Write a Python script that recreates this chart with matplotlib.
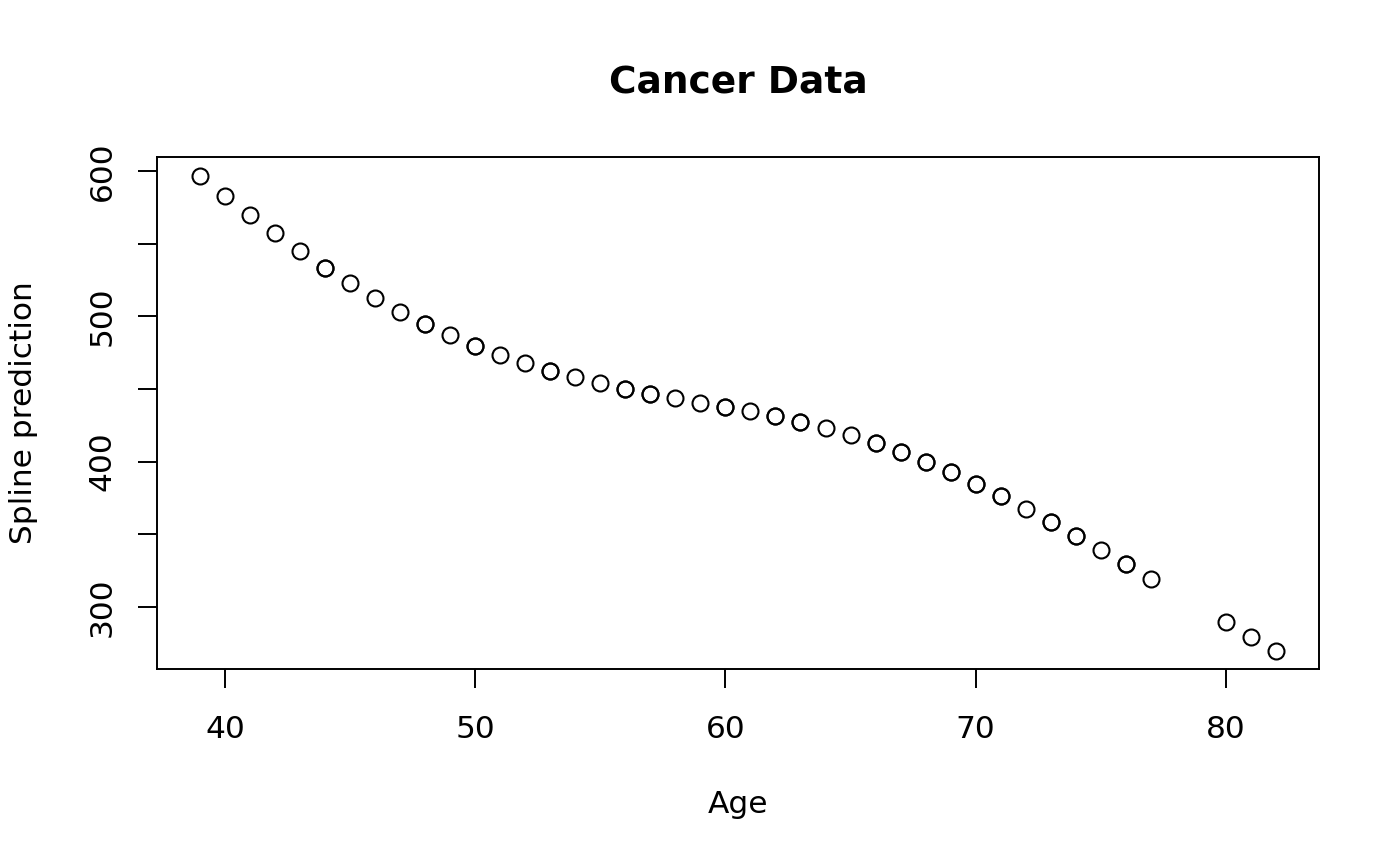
import numpy as np
import matplotlib
matplotlib.use("Agg")
import matplotlib.pyplot as plt

age = [39, 40, 41, 42, 43, 44, 45, 46, 47, 48, 49, 50, 51, 52, 53, 54, 55,
       56, 57, 58, 59, 60, 61, 62, 63, 64, 65, 66, 67, 68, 69, 70, 71, 72,
       73, 74, 75, 76, 77, 80, 81, 82]
pred = [596.6, 582.8, 569.7, 557.3, 545.0, 533.3, 522.9, 512.6, 503.0, 494.5,
        487.0, 479.6, 473.4, 467.9, 462.4, 458.3, 454.1, 450.0, 446.6, 443.8,
        440.4, 437.6, 434.9, 431.4, 427.3, 423.2, 418.4, 412.8, 406.7, 399.8,
        392.9, 384.6, 376.4, 367.4, 358.5, 348.8, 339.2, 329.6, 319.3, 289.7,
        279.4, 269.7]
# how many times each age appears (overplotted circles look bolder)
count = [1, 1, 1, 1, 1, 2, 1, 1, 1, 2, 1, 2, 1, 1, 2, 1, 1,
         2, 2, 1, 1, 2, 1, 2, 2, 1, 1, 2, 2, 2, 2, 2, 2, 1,
         2, 2, 1, 2, 1, 1, 1, 1]

x = np.repeat(age, count)
y = np.repeat(pred, count)

fig = plt.figure(figsize=(14, 8.66), dpi=100)
ax = fig.add_axes([0.1121, 0.2275, 0.83, 0.5912])

ax.plot(x, y, linestyle="none", marker="o", markersize=11.5,
        markerfacecolor="none", markeredgecolor="black", markeredgewidth=1.5)

ax.set_xlim(37.28, 83.72)
ax.set_ylim(257.3, 609.6)
ax.set_xticks([40, 50, 60, 70, 80])
ax.set_yticks([300, 350, 400, 450, 500, 550, 600])
ax.set_yticklabels(["300", "", "400", "", "500", "", "600"], rotation=90,
                   va="center")
ax.tick_params(axis="both", labelsize=22.5, length=14, width=1.4, pad=15)
ax.tick_params(axis="x", pad=19)
for s in ax.spines.values():
    s.set_linewidth(1.4)

ax.set_xlabel("Age", fontsize=22.5)
ax.xaxis.label.set_va("center")
ax.xaxis.set_label_coords(0.5, -(805 - 669) / 512)
ax.set_ylabel("Spline prediction", fontsize=22.5)
ax.yaxis.label.set_va("center")
ax.yaxis.set_label_coords(-(157 - 24) / 1162, 0.5)
ax.set_title("Cancer Data", fontsize=27, fontweight="bold",
             y=(669 - 92) / 512, va="center")

fig.savefig("out.png", dpi=100)
